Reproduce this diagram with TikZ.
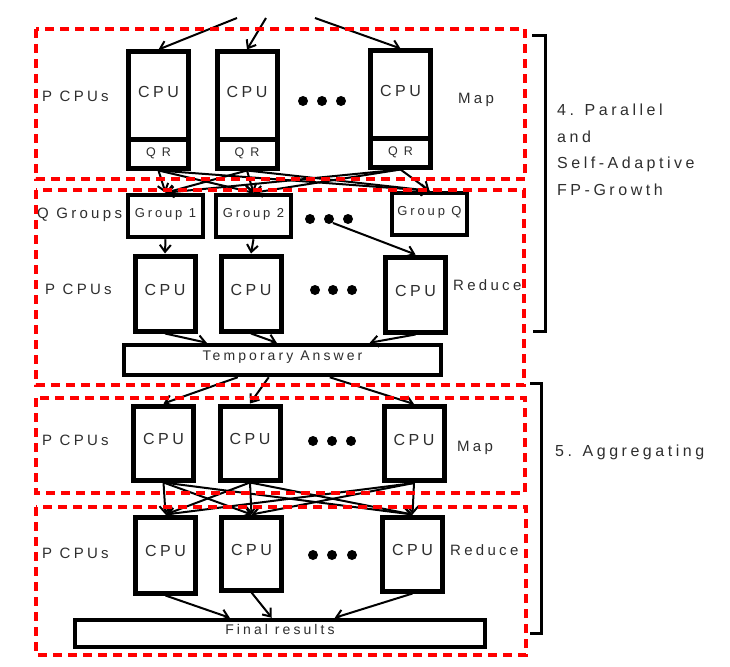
\documentclass[tikz,border=0pt]{standalone}
\usepackage{fontspec}
\setmainfont[LetterSpace=22]{Liberation Sans}
\usetikzlibrary{arrows.meta,calc}
\definecolor{txt}{HTML}{2E2E2E}
\definecolor{dashred}{HTML}{FF0000}
\begin{document}
\begin{tikzpicture}[x=1pt,y=-1pt,
  box/.style={draw, line width=5pt, fill=white, inner sep=0pt, text=txt},
  cpubox/.style={box, minimum width=60pt, text depth=8pt, font=\fontsize{16}{19}\selectfont},
  qrbox/.style={box, minimum width=60pt, minimum height=29pt, font=\fontsize{12.5}{15}\selectfont},
  grpbox/.style={box, line width=4.5pt, minimum width=75pt, minimum height=42pt, text depth=6pt, font=\fontsize{13}{15}\selectfont},
  widebox/.style={box, line width=4.5pt, font=\fontsize{14}{17}\selectfont},
  sidelab/.style={anchor=base west, inner sep=0pt, text=txt, font=\fontsize{15}{18}\selectfont},
  rightlab/.style={anchor=base west, inner sep=0pt, text=txt, font=\fontsize{16}{19}\selectfont},
  arr/.style={-{Straight Barb[length=7pt,width=11pt]}, line width=2pt},
  redbox/.style={draw=dashred, line width=3.2pt, dash pattern=on 9pt off 6pt},
  brk/.style={line width=3pt, line join=miter}
]
\useasboundingbox (0,0) rectangle (730,666);

% ---------- Map (top) ----------
\node[cpubox, minimum height=87pt] (m1) at (158.5,95.5) {CPU};
\node[qrbox] (m1q) at (158.5,153.5) {Q R};
\node[cpubox, minimum height=87pt] (m2) at (247,95.5) {CPU};
\node[qrbox] (m2q) at (247,153.5) {Q R};
\node[cpubox, minimum height=87pt] (m3) at (400.5,94.5) {CPU};
\node[qrbox] (m3q) at (400.5,152.5) {Q R};
\fill (303,101) circle (5pt) (322,101) circle (5pt) (341,101) circle (5pt);
\node[sidelab] (lab1) at (42,101.4) {P CPUs};
\node[sidelab] (lab2) at (458,103.4) {Map};

\coordinate (s1) at (237,18);
\coordinate (s2) at (266,18);
\coordinate (s3) at (315,18);
\draw[arr] (s1) -- (m1.north);
\draw[arr] (s2) -- (m2.north);
\draw[arr] (s3) -- (m3.north);

% ---------- Groups ----------
\node[grpbox] (g1) at (165.5,216) {Group 1};
\node[grpbox] (g2) at (253.5,216) {Group 2};
\node[grpbox] (gQ) at (429.5,214) {Group Q};
\fill (310,219) circle (5pt) (329,219) circle (5pt) (348,219) circle (5pt);
\node[sidelab] (lab3) at (37,218.4) {Q Groups};

\foreach \i in {m1q,m2q,m3q}{
  \foreach \j in {g1,g2,gQ}{
    \draw[arr] (\i.south) -- (\j.north);
  }
}

% ---------- Reduce (first) ----------
\node[cpubox, minimum height=75pt] (r1) at (165,293.5) {CPU};
\node[cpubox, minimum height=75pt] (r2) at (251,293.5) {CPU};
\node[cpubox, minimum height=75pt] (r3) at (415.5,294.5) {CPU};
\fill (315,290) circle (5pt) (333,290) circle (5pt) (352,290) circle (5pt);
\node[sidelab] (lab4) at (45,294.4) {P CPUs};
\node[sidelab] (lab5) at (453,290.4) {Reduce};

\coordinate (dq) at (333,223);
\draw[arr] (g1.south) -- (r1.north);
\draw[arr] (g2.south) -- (r2.north);
\draw[arr] (dq) -- (r3.north);

\node[widebox, minimum width=317pt, minimum height=30pt, text depth=8pt] (t) at (282.5,360) {Temporary Answer};
\draw[arr] (r1.south) -- ([xshift=85pt]t.north west);
\draw[arr] (r2.south) -- ([xshift=155pt]t.north west);
\draw[arr] (r3.south) -- ([xshift=248pt]t.north west);

% ---------- Map (second) ----------
\node[cpubox, minimum height=74pt] (n1) at (163.5,443) {CPU};
\node[cpubox, minimum height=74pt] (n2) at (250,443) {CPU};
\node[cpubox, minimum height=74pt] (n3) at (414,443.5) {CPU};
\fill (313,441) circle (5pt) (332,441) circle (5pt) (351,441) circle (5pt);
\node[sidelab] (lab6) at (42,445.4) {P CPUs};
\node[sidelab] (lab7) at (457,451.4) {Map};

\draw[arr] ([xshift=116pt]t.south west) -- (n1.north);
\draw[arr] ([xshift=147pt]t.south west) -- (n2.north);
\draw[arr] ([xshift=208pt]t.south west) -- (n3.north);

% ---------- Reduce (second) ----------
\node[cpubox, minimum height=76pt] (q1) at (165.5,555) {CPU};
\node[cpubox, minimum height=73pt] (q2) at (251.5,553.5) {CPU};
\node[cpubox, minimum height=74pt] (q3) at (412.5,554) {CPU};
\fill (313,555) circle (5pt) (332,555) circle (5pt) (352,555) circle (5pt);
\node[sidelab] (lab8) at (42,558.4) {P CPUs};
\node[sidelab] (lab9) at (450,555.4) {Reduce};

\foreach \i in {n1,n2,n3}{
  \foreach \j in {q1,q2,q3}{
    \draw[arr] (\i.south) -- (\j.north);
  }
}

\node[widebox, minimum width=410pt, minimum height=27pt, text depth=9pt] (f) at (280,633.5) {Final results};
\draw[arr] (q1.south) -- ([xshift=157pt]f.north west);
\draw[arr] (q2.south) -- ([xshift=199pt]f.north west);
\draw[arr] (q3.south) -- ([xshift=262pt]f.north west);

% ---------- dashed regions ----------
\draw[redbox] (36,29) rectangle (525,179);
\draw[redbox] (36,190) rectangle (524,385);
\draw[redbox] (36,398) rectangle (525,493);
\draw[redbox] (36,507) rectangle (526,655);

% ---------- brackets ----------
\draw[brk] (532,36) -- (545,36) -- (545,331) -- (533,331);
\draw[brk] (530,383) -- (541,383) -- (541,633) -- (530,633);
\node[rightlab] (p1) at (557,115.7) {4. Parallel};
\node[rightlab] (p2) at (557,142.7) {and};
\node[rightlab] (p3) at (557,168.7) {Self-Adaptive};
\node[rightlab] (p4) at (557,195.7) {FP-Growth};
\node[rightlab] (p5) at (555,456.7) {5. Aggregating};
\end{tikzpicture}
\end{document}
